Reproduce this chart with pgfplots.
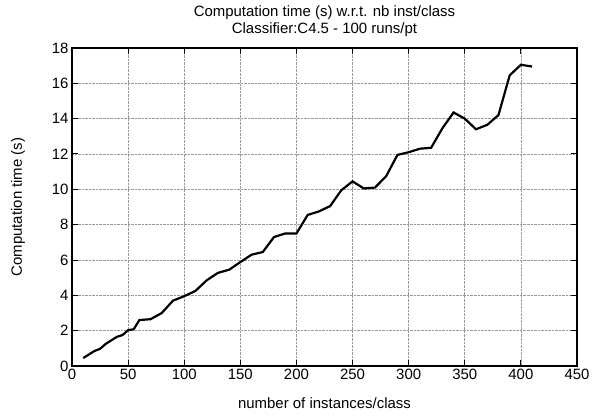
\documentclass[border=0pt]{standalone}
\usepackage{pgfplots}
\pgfplotsset{compat=1.18}
\usepackage{fontspec}
\setmainfont{Liberation Sans}
\begin{document}
\begin{tikzpicture}
\path[use as bounding box] (0,0) rectangle (594bp,417bp);
\begin{axis}[
  at={(72bp,51bp)}, anchor=south west,
  scale only axis, width=505bp, height=318bp,
  xmin=0, xmax=450, ymin=0, ymax=18,
  xtick={0,50,...,450}, ytick={0,2,...,18},
  tick align=inside, major tick length=6bp,
  tick style={black, line width=1pt},
  axis line style={line width=2pt},
  grid=major, major grid style={densely dotted, gray!80, line width=0.7pt},
  font=\fontsize{15}{17}\selectfont,
  /pgf/number format/assume math mode=true,
  title style={align=center, at={(axis description cs:0.5,1)}, anchor=south, yshift=1.5bp},
  title={Computation time (s) w.r.t. nb inst/class\\Classifier:C4.5 - 100 runs/pt},
  xlabel={number of instances/class},
  ylabel={Computation time (s)},
  xlabel style={at={(axis description cs:0.5,-0.116)}, anchor=center},
  ylabel style={at={(axis description cs:-0.107,0.5)}, anchor=center},
]
\addplot[black, line width=2.2pt] coordinates {
(10,0.45) (15,0.65) (20,0.85) (25,0.97) (30,1.25) (35,1.45) (40,1.65) (45,1.75)
(50,2.03) (55,2.08) (60,2.6) (70,2.65) (80,3.0) (90,3.7) (100,3.95) (110,4.25)
(120,4.85) (130,5.27) (140,5.45) (150,5.88) (160,6.3) (170,6.45) (180,7.3)
(190,7.5) (200,7.5) (210,8.55) (220,8.75) (230,9.05) (240,9.95) (250,10.45)
(260,10.05) (270,10.1) (280,10.75) (290,11.95) (300,12.1) (310,12.3) (320,12.35)
(330,13.45) (340,14.35) (350,14.0) (360,13.4) (370,13.65) (380,14.2) (390,16.45)
(400,17.05) (410,16.95)
};
\end{axis}
\end{tikzpicture}
\end{document}
